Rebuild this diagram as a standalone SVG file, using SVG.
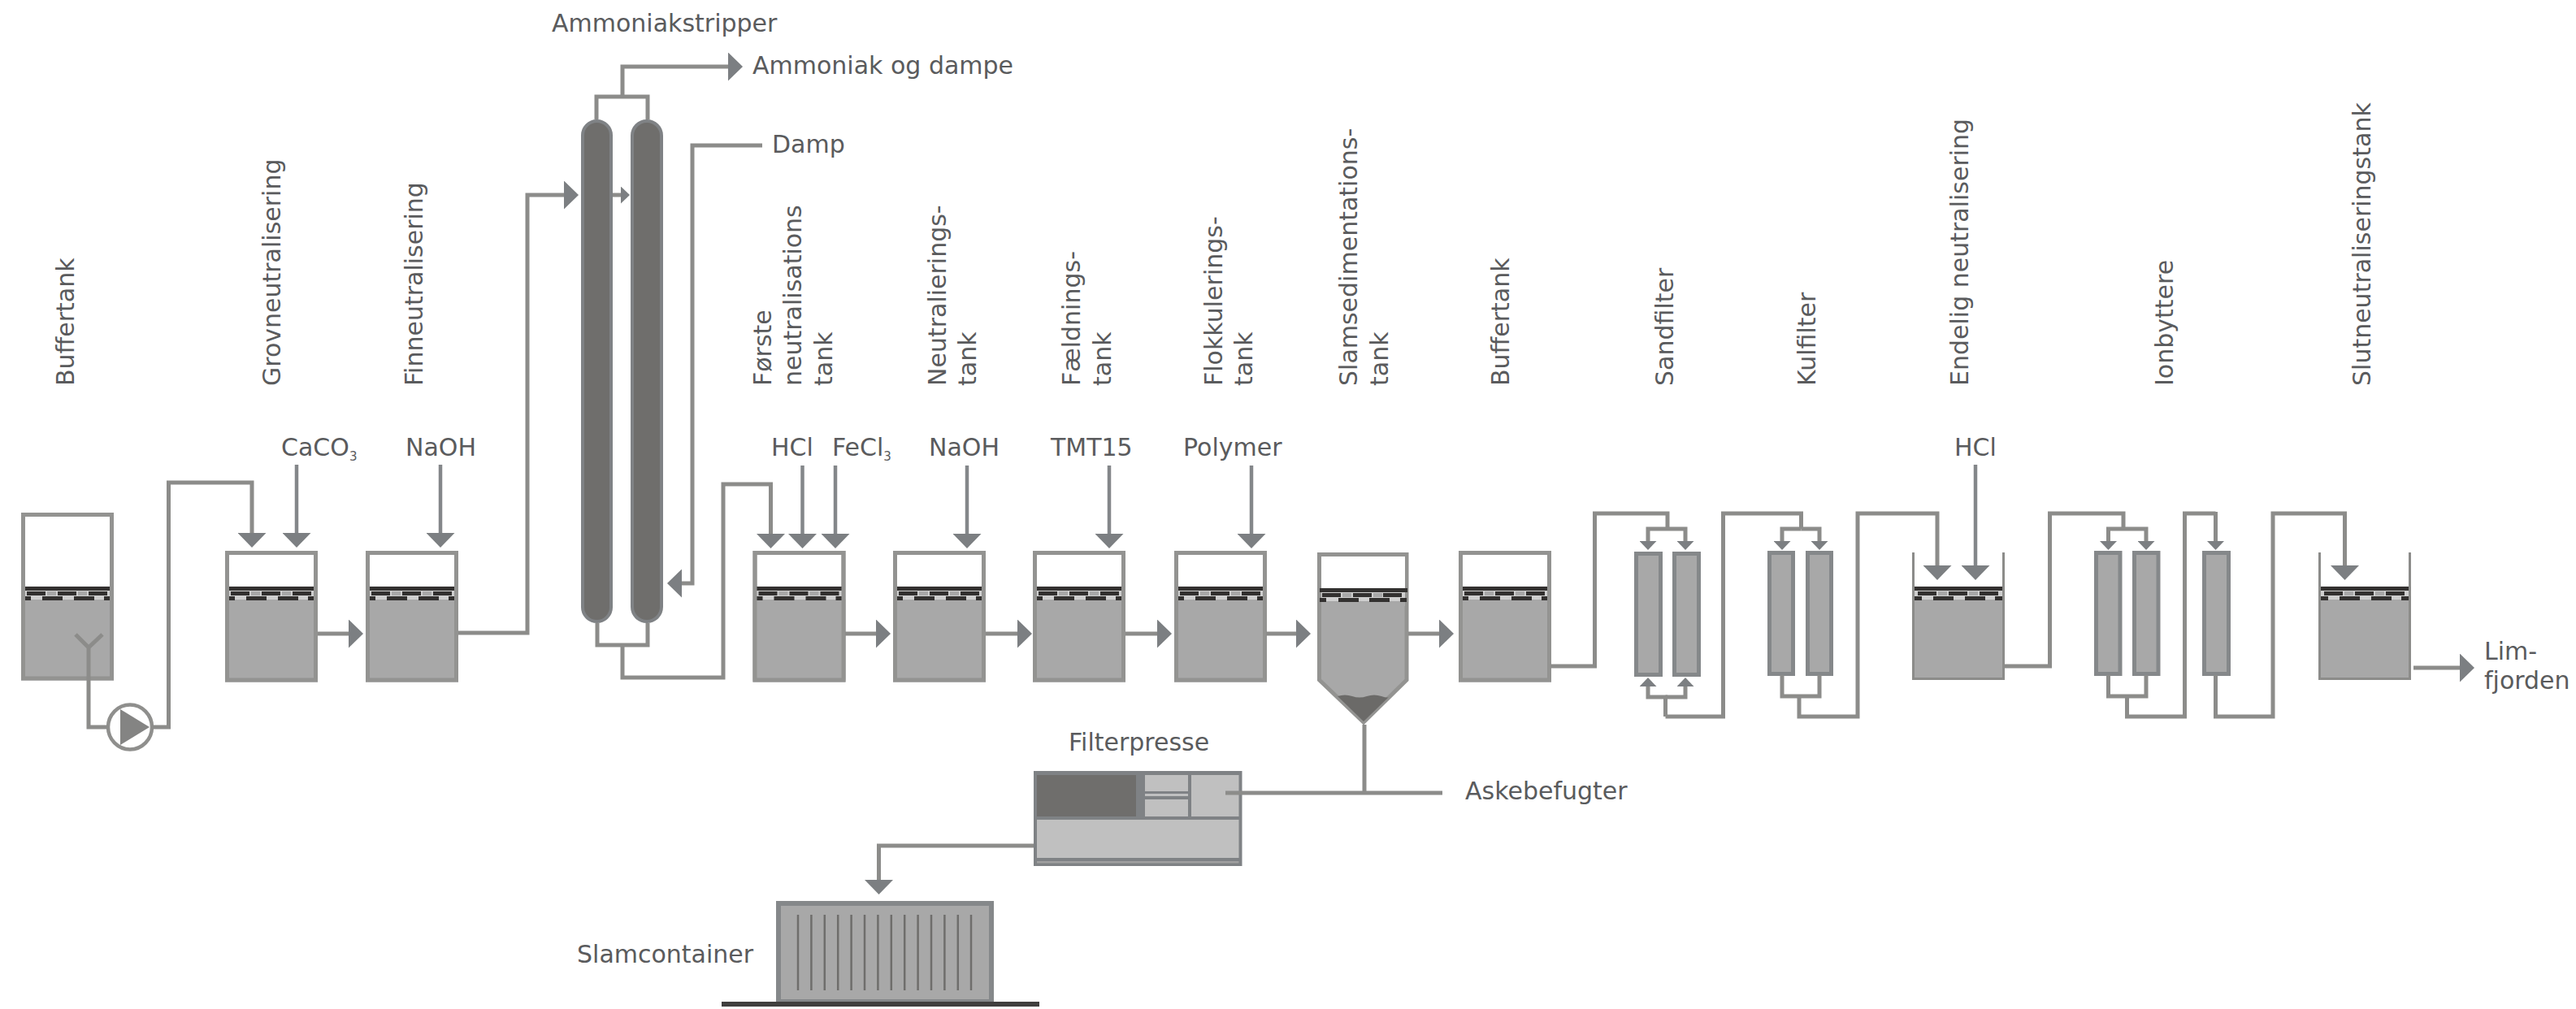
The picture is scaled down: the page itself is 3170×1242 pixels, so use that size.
<svg xmlns="http://www.w3.org/2000/svg" xmlns:xlink="http://www.w3.org/1999/xlink" width="3170" height="1242" viewBox="0 0 3170 1242">
<style>
text{font-family:"DejaVu Sans","Liberation Sans",sans-serif;font-size:30px;fill:#5a5b5d}
.sub{font-size:15px}
.tank{fill:#fff;stroke:#939391;stroke-width:5}
.liq{fill:#a8a8a8}
.col{fill:#a8a8a8;stroke:#85888a;stroke-width:5}
.strip{fill:#6f6e6c;stroke:#7f8285;stroke-width:4}
.p{fill:none;stroke:#8c8c8a;stroke-width:5}
.r{fill:none;stroke:#84878a;stroke-width:4.5}
.big{marker-end:url(#big)}
.sm{marker-end:url(#sm)}
.bar{fill:#333130}
.lt{fill:#c0c0c0;stroke:none}
</style>
<defs>
<marker id="big" markerUnits="userSpaceOnUse" markerWidth="18" markerHeight="35" refX="1" refY="17.5" orient="auto"><polygon points="0,0 18,17.5 0,35" fill="#7c7f82"/></marker>
<marker id="sm" markerUnits="userSpaceOnUse" markerWidth="11" markerHeight="21" refX="1" refY="10.5" orient="auto"><polygon points="0,0 11,10.5 0,21" fill="#7c7f82"/></marker>
<g id="lq">
<rect x="2" y="0" width="110" height="16" fill="#cfcfcf"/>
<rect x="0" y="16" width="114" height="99" class="liq"/>
<rect x="2" y="0" width="110" height="5" class="bar"/>
<rect x="7" y="6" width="23" height="5" class="bar"/><rect x="45" y="6" width="23" height="5" class="bar"/><rect x="83" y="6" width="23" height="5" class="bar"/>
<rect x="32" y="6" width="11" height="5" class="liq"/><rect x="70" y="6" width="11" height="5" class="liq"/>
<rect x="1" y="12" width="11" height="5" class="bar"/><rect x="26" y="12" width="25" height="5" class="bar"/><rect x="65" y="12" width="25" height="5" class="bar"/><rect x="102" y="12" width="11" height="5" class="bar"/>
</g>
<g id="tk"><rect x="2.5" y="2.5" width="109" height="156.5" class="tank"/><use href="#lq" y="44"/><rect x="2.5" y="2.5" width="109" height="156.5" fill="none" stroke="#939391" stroke-width="5"/></g>
<g id="otk"><use href="#lq" y="42"/><path d="M1.5 0V155.5H112.5V0" class="p" style="stroke-width:3"/></g>
</defs>

<g id="buffertank1"><rect x="28.5" y="633.5" width="109" height="201.5" class="tank"/><use href="#lq" x="26" y="722"/><rect x="28.5" y="633.5" width="109" height="201.5" fill="none" stroke="#939391" stroke-width="5"/><text transform="translate(91,475) rotate(-90)">Buffertank</text></g>
<g id="pump"><ellipse cx="160" cy="895" rx="27" ry="27.5" fill="#fff" stroke="#8f8f8d" stroke-width="4.5"/><polygon points="148,873 184,895 148,917" fill="#848483"/></g>
<g id="grov"><use href="#tk" x="277" y="678"/><text transform="translate(345,475) rotate(-90)">Grovneutralisering</text></g>
<g id="finn"><use href="#tk" x="450" y="678"/><text transform="translate(520,475) rotate(-90)">Finneutralisering</text></g>
<g id="stripper"><rect x="717" y="149" width="35" height="616" rx="17.5" class="strip"/><rect x="778" y="149" width="36" height="616" rx="18" class="strip"/><text x="679" y="39">Ammoniakstripper</text></g>
<g id="forste"><use href="#tk" x="926.5" y="678"/><text transform="translate(949,475) rotate(-90)">Første</text><text transform="translate(986,475) rotate(-90)">neutralisations</text><text transform="translate(1024,475) rotate(-90)">tank</text></g>
<g id="neutr"><use href="#tk" x="1099" y="678"/><text transform="translate(1164,475) rotate(-90)">Neutralierings-</text><text transform="translate(1201,475) rotate(-90)">tank</text></g>
<g id="faeld"><use href="#tk" x="1271" y="678"/><text transform="translate(1329,475) rotate(-90)">Fældnings-</text><text transform="translate(1367,475) rotate(-90)">tank</text></g>
<g id="flok"><use href="#tk" x="1445" y="678"/><text transform="translate(1504,475) rotate(-90)">Flokkulerings-</text><text transform="translate(1541,475) rotate(-90)">tank</text></g>
<g id="slamsed">
<polygon points="1623.5,682.5 1731,682.5 1731,837 1678,889 1623.5,837" fill="#a8a8a8" stroke="#939391" stroke-width="5"/>
<rect x="1626" y="685" width="103" height="39" fill="#fff"/>
<rect x="1626" y="724" width="103" height="16" fill="#cfcfcf"/>
<rect x="1624" y="724" width="108" height="5" class="bar"/>
<rect x="1627" y="730" width="23" height="5" class="bar"/><rect x="1665" y="730" width="23" height="5" class="bar"/><rect x="1702" y="730" width="23" height="5" class="bar"/>
<rect x="1652" y="730" width="11" height="5" class="liq"/><rect x="1690" y="730" width="11" height="5" class="liq"/>
<rect x="1624" y="736" width="8" height="5" class="bar"/><rect x="1647" y="736" width="25" height="5" class="bar"/><rect x="1685" y="736" width="25" height="5" class="bar"/><rect x="1723" y="736" width="8" height="5" class="bar"/>
<rect x="1626" y="741" width="103" height="5" class="liq"/>
<path d="M1646 857Q1655 854 1664 857T1682 857T1700 857T1710 857L1678 888Z" fill="#6b6a68"/>
<text transform="translate(1670,475) rotate(-90)">Slamsedimentations-</text><text transform="translate(1708,475) rotate(-90)">tank</text></g>
<g id="buffertank2"><use href="#tk" x="1795" y="678"/><text transform="translate(1857,475) rotate(-90)">Buffertank</text></g>
<g id="sandfilter"><rect x="2013.5" y="681.5" width="30" height="149" class="col"/><rect x="2060.5" y="681.5" width="30" height="149" class="col"/><text transform="translate(2059,475) rotate(-90)">Sandfilter</text></g>
<g id="kulfilter"><rect x="2177.5" y="680.5" width="29" height="149" class="col"/><rect x="2224.5" y="680.5" width="29" height="149" class="col"/><text transform="translate(2234,475) rotate(-90)">Kulfilter</text></g>
<g id="endelig"><use href="#otk" x="2353" y="680"/><text transform="translate(2422,475) rotate(-90)">Endelig neutralisering</text></g>
<g id="ionbyttere"><rect x="2579.5" y="680.5" width="29.5" height="149" class="col"/><rect x="2626.5" y="680.5" width="29.5" height="149" class="col"/><rect x="2712.5" y="680.5" width="30" height="149" class="col"/><text transform="translate(2674,475) rotate(-90)">Ionbyttere</text></g>
<g id="slutneutr"><use href="#otk" x="2853" y="680"/><text transform="translate(2917,475) rotate(-90)">Slutneutraliseringstank</text></g>
<g id="filterpresse">
<rect x="1272" y="949" width="256.5" height="117" fill="#7f8285"/>
<rect x="1276" y="954" width="122" height="51" fill="#6f6e6c"/>
<rect class="lt" x="1409" y="954" width="53" height="20"/><rect class="lt" x="1409" y="984" width="53" height="21"/><rect class="lt" x="1409" y="977" width="53" height="3"/>
<rect class="lt" x="1466" y="954" width="58.5" height="51"/><rect class="lt" x="1276" y="1009" width="248.5" height="47"/>
<rect x="1276" y="1060" width="248.5" height="2.5" fill="#a0a0a0"/>
<text x="1315" y="924">Filterpresse</text></g>
<g id="slamcontainer">
<rect x="958" y="1112" width="262" height="121" fill="#a8a8a8" stroke="#85888a" stroke-width="6"/>
<path d="M982 1126V1219M998.4 1126V1219M1014.8 1126V1219M1031.2 1126V1219M1047.6 1126V1219M1064 1126V1219M1080.4 1126V1219M1096.8 1126V1219M1113.2 1126V1219M1129.6 1126V1219M1146 1126V1219M1162.4 1126V1219M1178.8 1126V1219M1195 1126V1219" fill="none" stroke="#6f6e6c" stroke-width="2.5"/>
<rect x="888" y="1233" width="391" height="6" fill="#403f3e"/>
<text x="710" y="1185">Slamcontainer</text></g>
<g id="connectors">
<path class="p" d="M93 781L109 797L126 781M109 797V895H133"/>
<path class="p big" d="M187 895H207.5V594H310V657"/>
<path class="r big" d="M365 572V657"/>
<path class="r big" d="M542 572V657"/>
<path class="p big" d="M391 780H430"/>
<path class="p big" d="M564 779H649V240H695"/>
<path class="p sm" d="M754 240H765"/>
<path class="p big" d="M734 147V119H797V147M766 119V82H897"/>
<path class="p big" d="M938 179H852V718H838"/>
<path class="p big" d="M735 767V794H797V767M766 794V834H890V596H948.5V658"/>
<path class="r big" d="M987.5 573V658"/>
<path class="r big" d="M1028 573V658"/>
<path class="p big" d="M1040 780H1079"/>
<path class="p big" d="M1213 780H1253"/>
<path class="p big" d="M1385 780H1425"/>
<path class="p big" d="M1558 780H1596"/>
<path class="p big" d="M1733 780H1772"/>
<path class="r big" d="M1190 573V658"/>
<path class="r big" d="M1365 573V658"/>
<path class="r big" d="M1540 573V658"/>
<path class="p" d="M1679 892V976M1508 976H1775"/>
<path class="p big" d="M1272 1041H1081.5V1084"/>
<path class="p" d="M1908 820H1962.5V632H2052V651"/>
<path class="p sm" d="M2052 651H2028V667"/><path class="p sm" d="M2052 651H2074V667"/>
<path class="p sm" d="M2049.5 882V858H2028V844"/><path class="p sm" d="M2049.5 858H2074V844"/>
<path class="p" d="M2049.5 882H2120.5V632H2216.5V651"/>
<path class="p sm" d="M2216.5 651H2193V667"/><path class="p sm" d="M2216.5 651H2239V667"/>
<path class="p big" d="M2193 831V857H2239V831M2214 857V882H2286V632H2384V697"/>
<path class="r big" d="M2431 572V697"/>
<path class="p" d="M2467 820H2522.5V632H2613V651"/>
<path class="p sm" d="M2613 651H2594.5V667"/><path class="p sm" d="M2613 651H2641V667"/>
<path class="p" d="M2594.5 831V857H2641V831M2617.5 857V882H2688.5V632H2726.5"/>
<path class="p sm" d="M2726.5 630V667"/>
<path class="p big" d="M2726.5 831V882H2797V632H2885.5V697"/>
<path class="p big" d="M2970 822H3028"/>
</g>
<g id="labels">
<text x="926" y="91">Ammoniak og dampe</text>
<text x="950" y="188">Damp</text>
<text x="346" y="561">CaCO<tspan class="sub" dy="6">3</tspan></text>
<text x="499" y="561">NaOH</text>
<text x="949" y="561">HCl</text>
<text x="1024" y="561">FeCl<tspan class="sub" dy="6">3</tspan></text>
<text x="1143" y="561">NaOH</text>
<text x="1293" y="561">TMT15</text>
<text x="1456" y="561">Polymer</text>
<text x="2405" y="561">HCl</text>
<text x="1803" y="984">Askebefugter</text>
<text x="3057" y="812">Lim-</text>
<text x="3057" y="848">fjorden</text>
</g>
</svg>
